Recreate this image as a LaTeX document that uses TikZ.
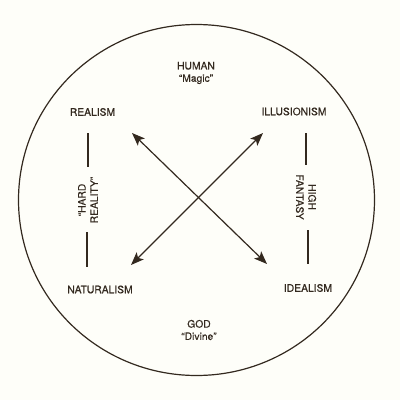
\documentclass[tikz,border=0pt]{standalone}
\usepackage{fontspec}
\setmainfont{TeX Gyre Heros}
\newfontfamily\lblfont[FakeBold=0.3]{TeX Gyre Heros}
\usetikzlibrary{arrows.meta}
\definecolor{ink}{HTML}{33291F}
\definecolor{paper}{HTML}{FEFEF9}
\begin{document}
\begin{tikzpicture}[x=1pt,y=-1pt,
  lbl/.style={text=ink,font=\lblfont\fontsize{10.3}{12.3}\selectfont,inner sep=0pt,align=center},
  bar/.style={draw=ink,line width=1.4pt},
  dbl/.style={draw=ink,line width=1.2pt,{Stealth[length=13pt,width=10pt,inset=3pt]}-{Stealth[length=13pt,width=10pt,inset=3pt]}}]
\fill[paper] (0,0) rectangle (400,400);
\useasboundingbox (0,0) rectangle (400,400);
\draw[ink,line width=1.2pt] (196.5,200) ellipse[x radius=178, y radius=175.5];
\node[lbl] (human) at (196,73) {HUMAN\\“Magic”};
\node[lbl] (realism) at (92.5,112) {REALISM};
\node[lbl] (illusion) at (294,111.5) {ILLUSIONISM};
\node[lbl] (natural) at (100,289.5) {NATURALISM};
\node[lbl] (ideal) at (308,288) {IDEALISM};
\node[lbl] (god) at (199,330) {GOD\\“Divine”};
\node[lbl,rotate=90] (hard) at (88,200) {“HARD\\REALITY”};
\node[lbl,rotate=-90] (high) at (306,197) {HIGH\\FANTASY};
\coordinate (l1a) at (88,133); \coordinate (l1b) at (88,167);
\coordinate (l2a) at (87,232); \coordinate (l2b) at (87,267);
\coordinate (r1a) at (306,133); \coordinate (r1b) at (306,165);
\coordinate (r2a) at (308,230); \coordinate (r2b) at (308,264);
\draw[bar] (l1a) -- (l1b);
\draw[bar] (l2a) -- (l2b);
\draw[bar] (r1a) -- (r1b);
\draw[bar] (r2a) -- (r2b);
\coordinate (nw) at (132,133); \coordinate (se) at (267,264);
\coordinate (ne) at (263,133); \coordinate (sw) at (131,265);
\draw[dbl] (nw) -- (se);
\draw[dbl] (ne) -- (sw);
\end{tikzpicture}
\end{document}
